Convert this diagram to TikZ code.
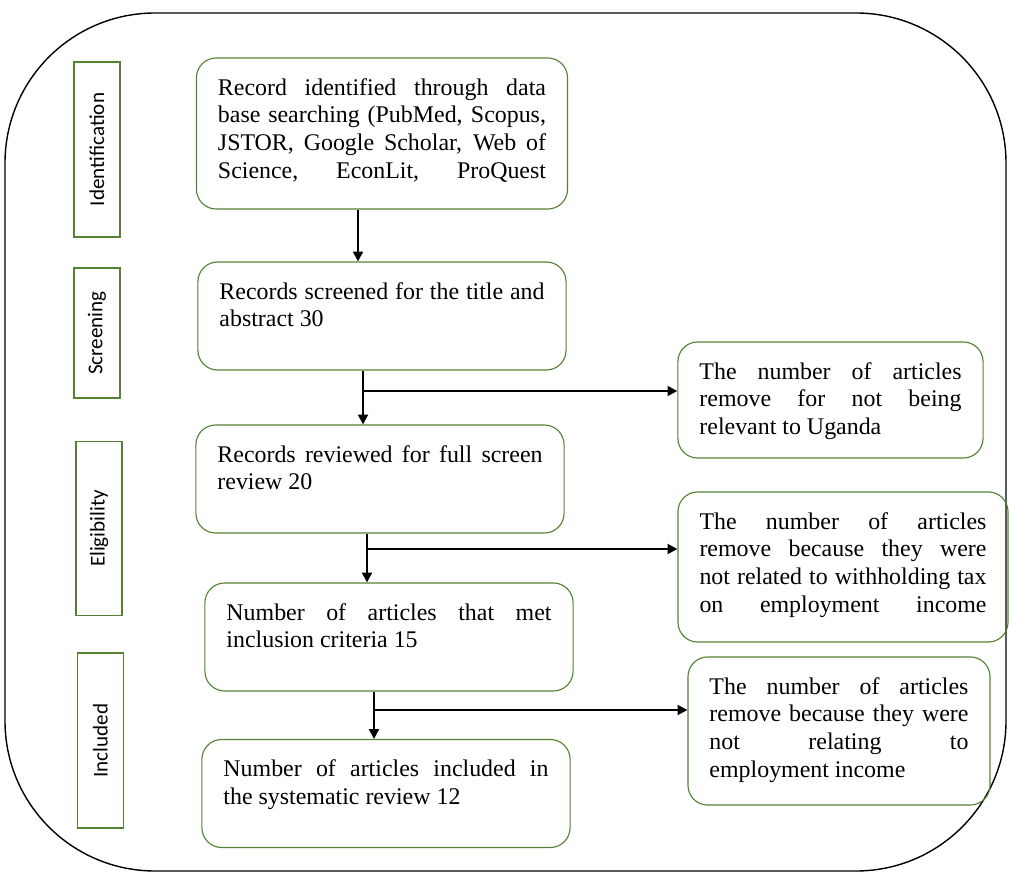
\documentclass[tikz,border=0pt]{standalone}
\usepackage{fontspec}
\setmainfont{Liberation Serif}
\setsansfont{Carlito}
\usetikzlibrary{arrows.meta,calc,positioning}
\definecolor{boxgreen}{RGB}{84,130,53}
\newcommand{\boxfont}{\fontsize{17}{19.7}\selectfont}
\newcommand{\phasefont}{\sffamily\fontsize{15}{18}\selectfont}

\begin{document}
\begin{tikzpicture}[x=0.025cm, y=-0.025cm, >={Triangle[length=7pt,width=7pt]},
  stepbox/.style={draw=boxgreen, line width=0.8pt, rounded corners=14pt, align=justify,
    inner xsep=15.3pt, inner ysep=0pt, text height=26.5pt, font=\boxfont,
    execute at begin node={\tolerance=9999\hyphenpenalty=10000}},
  phase/.style={draw=boxgreen, line width=0.9pt, rotate=90, minimum height=32.7pt,
    inner sep=0pt, font=\phasefont},
  flow/.style={->, line width=1.6pt}]
  \useasboundingbox (0,0) rectangle (1009,873);
  % outer frame
  \draw[line width=1pt, rounded corners=3.75cm] (5,13) rectangle (1006,871);
  % phases on the left
  \node[phase, minimum width=124.5pt] (identification) at (97,149.5) {Identification};
  \node[phase, minimum width=92.5pt] (screening) at (97,333) {Screening};
  \node[phase, minimum width=123.8pt] (eligibility) at (99,528.5) {Eligibility};
  \node[phase, minimum width=124.5pt] (included) at (100.5,740.5) {Included};
  % main flow
  \node[stepbox, text width=233.3pt, text depth=80.9pt] (identified) at (382,133.5)
    {Record identified through data\linebreak base searching (PubMed, Scopus,\linebreak
     JSTOR, Google Scholar, Web of\linebreak Science, EconLit, ProQuest\linebreak\null};
  \node[stepbox, text width=231.2pt, text depth=50.3pt] (screened) at (382,316)
    {Records screened for the title and\linebreak abstract 30};
  \node[stepbox, text width=231.2pt, text depth=50.3pt] (reviewed) at (380,479)
    {Records reviewed for full screen\linebreak review 20};
  \node[stepbox, text width=231.2pt, text depth=50.3pt] (met) at (389,637)
    {Number of articles that met\linebreak inclusion criteria 15};
  \node[stepbox, text width=231.2pt, text depth=50.3pt] (final) at (386,793.5)
    {Number of articles included in\linebreak the systematic review 12};
  % removed articles
  \node[stepbox, text width=186.4pt, text depth=56pt] (notuganda) at (830.5,400)
    {The number of articles\linebreak remove for not being\linebreak relevant to Uganda};
  \node[stepbox, text width=204.1pt, text depth=80.2pt] (nottax) at (843,567)
    {The number of articles\linebreak remove because they were\linebreak
     not related to withholding tax\linebreak on employment income\linebreak\null};
  \node[stepbox, text width=184.2pt, text depth=78.8pt] (notincome) at (839,731)
    {The number of articles\linebreak remove because they were\linebreak not relating to\linebreak employment income};
  % arrows
  \coordinate (split1) at (363,391);
  \coordinate (split2) at (367,549);
  \coordinate (split3) at (374,710);
  \draw[flow] (identified.south -| 358,0) -- (screened.north -| 358,0);
  \draw[flow] (screened.south -| split1) -- (reviewed.north -| split1);
  \draw[flow] (split1) -- (split1 -| notuganda.west);
  \draw[flow] (reviewed.south -| split2) -- (met.north -| split2);
  \draw[flow] (split2) -- (split2 -| nottax.west);
  \draw[flow] (met.south -| split3) -- (final.north -| split3);
  \draw[flow] (split3) -- (split3 -| notincome.west);
\end{tikzpicture}
\end{document}
